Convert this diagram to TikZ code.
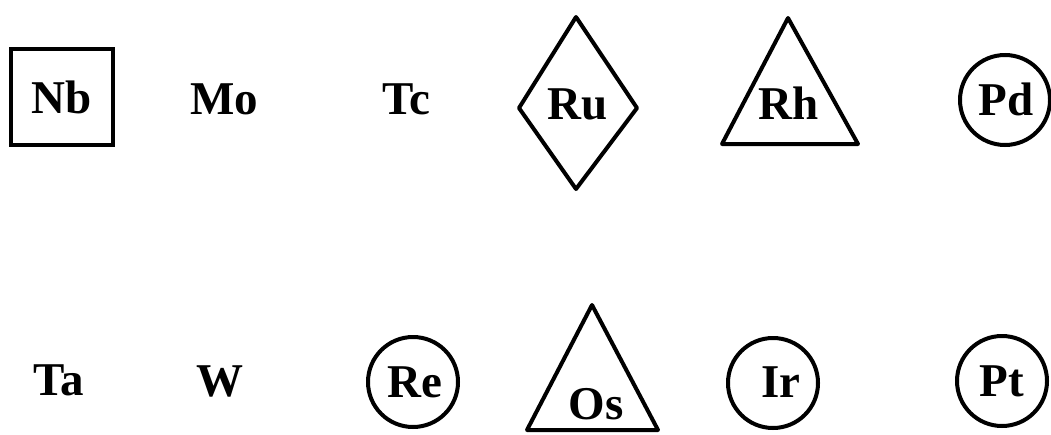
\documentclass[tikz,border=0pt]{standalone}
\usepackage{fontspec}
\setmainfont{Liberation Serif}
\usepackage{tikz}

\begin{document}
\begin{tikzpicture}[x=1pt,y=-1pt,
  el/.style={font=\fontsize{47}{52}\selectfont\bfseries,anchor=base,inner sep=0pt},
  ring/.style={draw,circle,line width=4pt,minimum size=90pt,inner sep=0pt},
  outline/.style={line width=4pt,line join=round}]
\useasboundingbox (0,0) rectangle (1051,434);
% top row
\node[el] (Nb) at (62,113) {Nb};
\node[draw,line width=4pt,minimum width=102pt,minimum height=96pt] (NbBox) at (62,97) {};
\node[el] (Mo) at (224,114) {Mo};
\node[el] (Tc) at (406,114) {Tc};
\node[el] (Ru) at (578,119) {Ru};
\draw[outline] (576,17) -- (637,108) -- (576,189) -- (519,108) -- cycle;
\node[el] (Rh) at (789,119) {Rh};
\draw[outline] (722,144) -- (858,144) -- (788,18) -- cycle;
\node[ring] (PdRing) at (1005,100) {};
\node[el] (Pd) at (1006,115) {Pd};
% bottom row
\node[el] (Ta) at (59,395) {Ta};
\node[el] (W) at (220,396) {W};
\node[ring] (ReRing) at (413,382) {};
\node[el] (Re) at (415,397) {Re};
\node[el] (Os) at (596,419) {Os};
\draw[outline] (527,430) -- (658,430) -- (592,305) -- cycle;
\node[ring] (IrRing) at (773,383) {};
\node[el] (Ir) at (781,397) {Ir};
\node[ring] (PtRing) at (1002,381) {};
\node[el] (Pt) at (1002,396) {Pt};
\end{tikzpicture}
\end{document}
